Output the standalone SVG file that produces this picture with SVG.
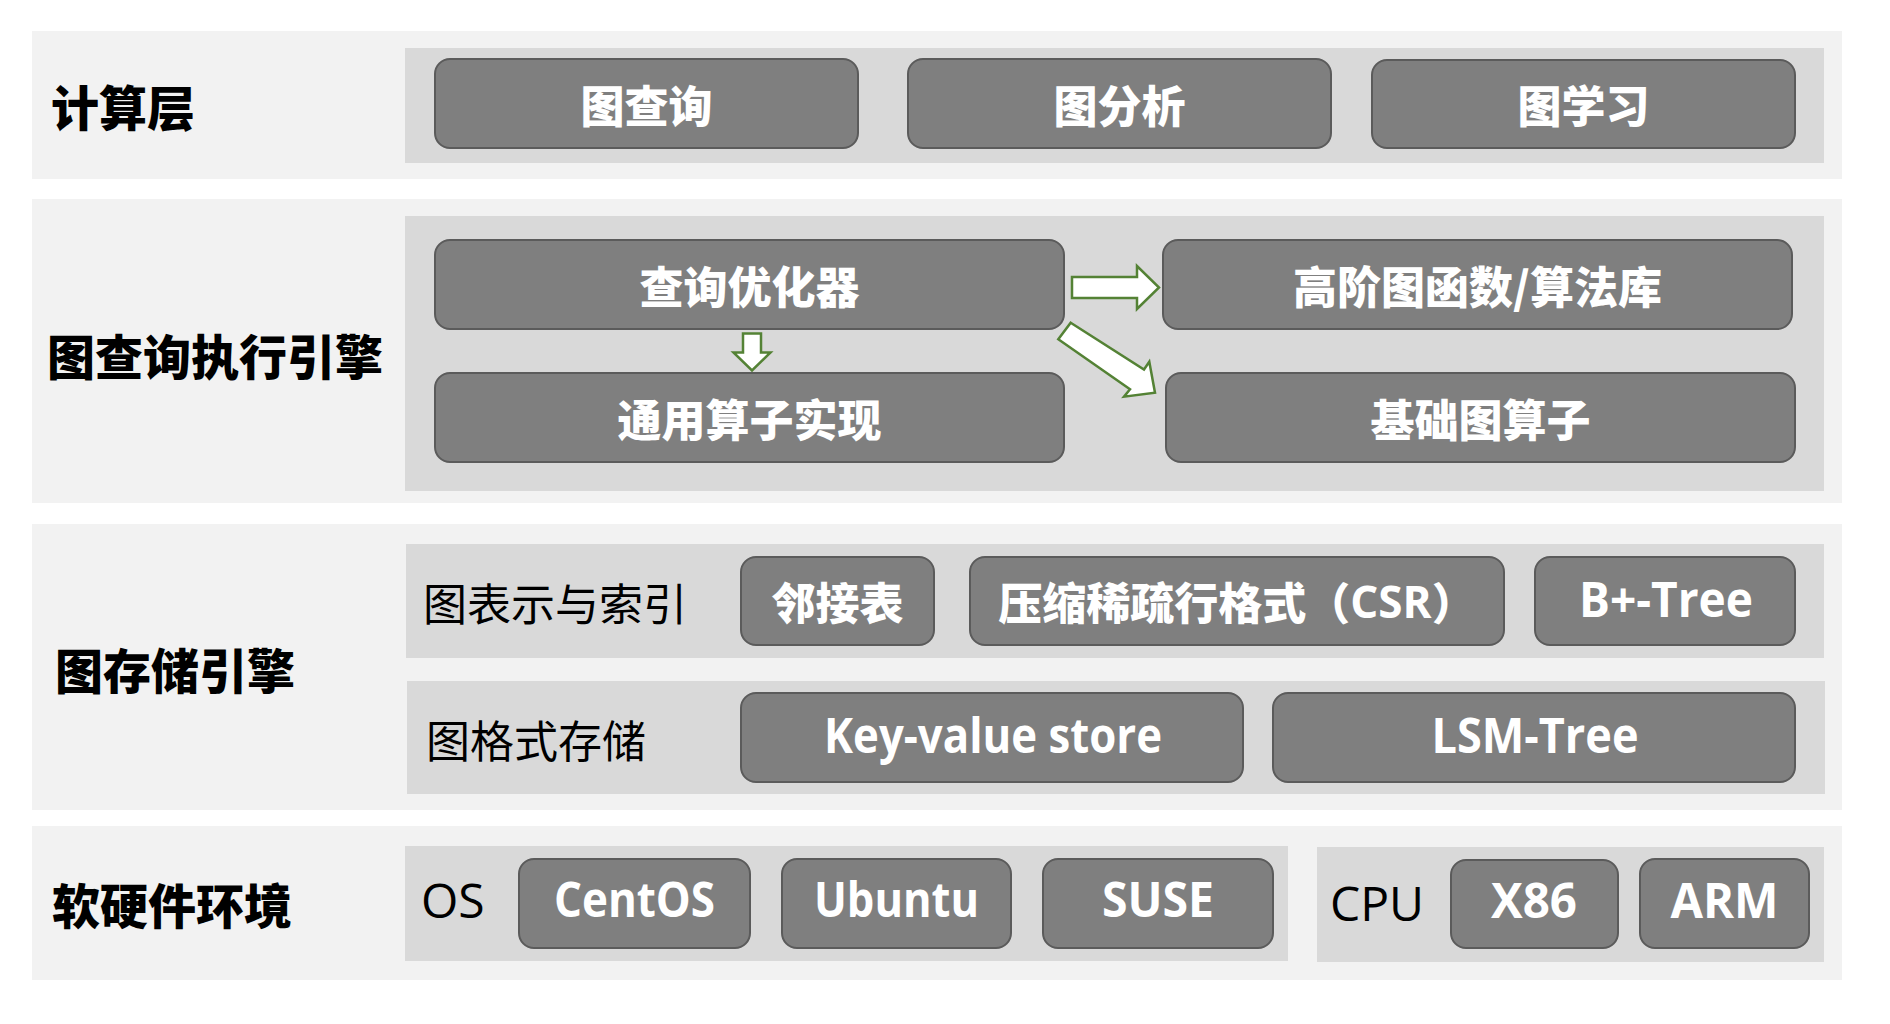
<svg xmlns="http://www.w3.org/2000/svg" width="1890" height="1024" viewBox="0 0 1890 1024">
<style>
.band{fill:#f2f2f2}
.panel{fill:#d9d9d9}
.box{fill:#7f7f7f;stroke:#5b5b5b;stroke-width:2}
.bt{font-family:"Noto Sans CJK SC","Noto Sans",sans-serif;font-weight:900;font-size:44px;fill:#ffffff;text-anchor:middle;dominant-baseline:central}
.lt{font-family:"Open Sans","Noto Sans CJK SC",sans-serif;font-weight:700;font-size:48px;fill:#ffffff;text-anchor:middle}
.lab{font-family:"Noto Sans CJK SC",sans-serif;font-weight:900;font-size:48px;fill:#000000;dominant-baseline:central}
.sub{font-family:"Noto Sans CJK SC",sans-serif;font-weight:400;font-size:44px;fill:#000000;dominant-baseline:central}
.reg{font-family:"Open Sans","Noto Sans",sans-serif;font-weight:400;font-size:48px;fill:#000000}
.arr{fill:#ffffff;stroke:#548235;stroke-width:2.5;stroke-linejoin:miter}
</style>
<rect width="1890" height="1024" fill="#ffffff"/>

<g id="layer-compute">
<rect class="band" x="32" y="31" width="1810" height="148"/>
<rect class="panel" x="405" y="48" width="1419" height="115"/>
<text class="lab" x="51" y="105">计算层</text>
</g>
<g id="layer-engine">
<rect class="band" x="32" y="199" width="1810" height="304"/>
<rect class="panel" x="405" y="216" width="1419" height="275"/>
<text class="lab" x="47" y="354">图查询执行引擎</text>
</g>
<g id="layer-storage">
<rect class="band" x="32" y="524" width="1810" height="286"/>
<rect class="panel" x="406" y="544" width="1418" height="114"/>
<rect class="panel" x="407" y="681" width="1418" height="113"/>
<text class="lab" x="55" y="668">图存储引擎</text>
<text class="sub" x="423" y="602">图表示与索引</text>
<text class="sub" x="426" y="739">图格式存储</text>
</g>
<g id="layer-env">
<rect class="band" x="32" y="826" width="1810" height="154"/>
<rect class="panel" x="405" y="846" width="883" height="115"/>
<rect class="panel" x="1317" y="847" width="507" height="115"/>
<text class="lab" x="52" y="903">软硬件环境</text>
<text class="reg" x="421" y="918">OS</text>
<text class="reg" x="1330" y="921">CPU</text>
</g>

<g id="n-graph-query"><rect class="box" x="435" y="59" width="423" height="89" rx="15"/><text class="bt" x="646.5" y="103.5">图查询</text></g>
<g id="n-graph-analysis"><rect class="box" x="908" y="59" width="423" height="89" rx="15"/><text class="bt" x="1119.5" y="103.5">图分析</text></g>
<g id="n-graph-learning"><rect class="box" x="1372" y="60" width="423" height="88" rx="15"/><text class="bt" x="1583.5" y="104">图学习</text></g>

<g id="n-optimizer"><rect class="box" x="435" y="240" width="629" height="89" rx="15"/><text class="bt" x="749.5" y="284.5">查询优化器</text></g>
<g id="n-generic-ops"><rect class="box" x="435" y="373" width="629" height="89" rx="15"/><text class="bt" x="749.5" y="417.5">通用算子实现</text></g>
<g id="n-algo-lib"><rect class="box" x="1163" y="240" width="629" height="89" rx="15"/><text class="bt" x="1477.5" y="284.5">高阶图函数/算法库</text></g>
<g id="n-basic-ops"><rect class="box" x="1166" y="373" width="629" height="89" rx="15"/><text class="bt" x="1480.5" y="417.5">基础图算子</text></g>

<g id="n-adjacency"><rect class="box" x="741" y="557" width="193" height="88" rx="15"/><text class="bt" x="837.5" y="601">邻接表</text></g>
<g id="n-csr"><rect class="box" x="970" y="557" width="534" height="88" rx="15"/><text class="bt" x="1237" y="601">压缩稀疏行格式（<tspan style="font-family:'Open Sans','Noto Sans CJK SC',sans-serif;font-weight:700">CSR</tspan>）</text></g>
<g id="n-bplus"><rect class="box" x="1535" y="557" width="260" height="88" rx="15"/><text class="lt" x="1666" y="617" textLength="174" lengthAdjust="spacingAndGlyphs">B+-Tree</text></g>
<g id="n-kv"><rect class="box" x="741" y="693" width="502" height="89" rx="15"/><text class="lt" x="993" y="753" textLength="338" lengthAdjust="spacingAndGlyphs">Key-value store</text></g>
<g id="n-lsm"><rect class="box" x="1273" y="693" width="522" height="89" rx="15"/><text class="lt" x="1535" y="753" textLength="207" lengthAdjust="spacingAndGlyphs">LSM-Tree</text></g>

<g id="n-centos"><rect class="box" x="519" y="859" width="231" height="89" rx="15"/><text class="lt" x="634.5" y="917" textLength="161" lengthAdjust="spacingAndGlyphs">CentOS</text></g>
<g id="n-ubuntu"><rect class="box" x="782" y="859" width="229" height="89" rx="15"/><text class="lt" x="896.5" y="917" textLength="165" lengthAdjust="spacingAndGlyphs">Ubuntu</text></g>
<g id="n-suse"><rect class="box" x="1043" y="859" width="230" height="89" rx="15"/><text class="lt" x="1158" y="917" textLength="112" lengthAdjust="spacingAndGlyphs">SUSE</text></g>
<g id="n-x86"><rect class="box" x="1451" y="860" width="167" height="88" rx="15"/><text class="lt" x="1534" y="918" textLength="86" lengthAdjust="spacingAndGlyphs">X86</text></g>
<g id="n-arm"><rect class="box" x="1640" y="859" width="169" height="89" rx="15"/><text class="lt" x="1724.5" y="918" textLength="108" lengthAdjust="spacingAndGlyphs">ARM</text></g>

<g id="connectors">
<polygon class="arr" points="743,333.5 761,333.5 761,352.5 770.5,352.5 752,370.5 733.5,352.5 743,352.5"/>
<polygon class="arr" points="1072,277 1137,277 1137,266 1159,287.5 1137,309 1137,298 1072,298"/>
<polygon class="arr" points="1070.7,322.7 1144,369.5 1149.3,361.7 1155,392.7 1124,396.7 1130,389.3 1058.3,339.3"/>
</g>
</svg>
